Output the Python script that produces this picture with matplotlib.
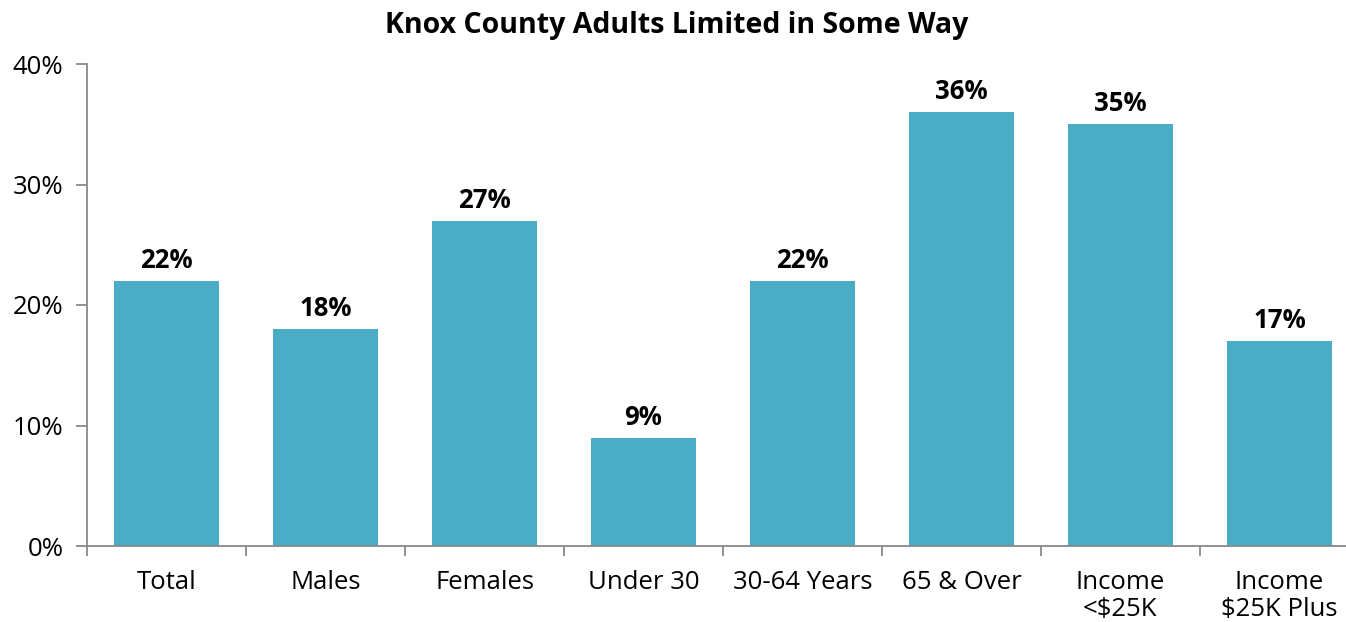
import matplotlib.pyplot as plt
import numpy as np

categories = ["Total", "Males", "Females", "Under 30", "30-64 Years",
              "65 & Over", "Income\n<$25K", "Income\n$25K Plus"]
values = [22, 18, 27, 9, 22, 36, 35, 17]
yticks = [0, 10, 20, 30, 40]

plt.rcParams['font.family'] = ['Open Sans', 'DejaVu Sans']

fig = plt.figure(figsize=(13.46, 6.22), dpi=100)
ax = fig.add_axes([87/1346, 76/622, 1272/1346, 482/622])

x = np.arange(len(categories))
bars = ax.bar(x, values, width=0.66, color="#4BACC6")

for xi, v in zip(x, values):
    ax.annotate(f"{v}%", (xi, v), xytext=(0, 5), textcoords="offset points",
                ha="center", va="bottom", fontsize=18.5, fontweight="bold")

ax.set_xlim(-0.5, len(categories) - 0.5)
ax.set_ylim(0, 40)
ax.set_yticks(yticks)
ax.set_yticklabels([f"{t}%" for t in yticks], fontsize=18.5)

ax.set_xticks(x)
ax.set_xticklabels(categories, fontsize=18.5, linespacing=1.15)
ax.tick_params(axis="x", length=0, pad=17)
ax.set_xticks(np.arange(len(categories) + 1) - 0.5, minor=True)
ax.tick_params(axis="x", which="minor", length=7, color="#898989", width=1.3)
ax.tick_params(axis="y", length=8, color="#898989", width=1.3, pad=9)

for s in ["top", "right"]:
    ax.spines[s].set_visible(False)
for s in ["left", "bottom"]:
    ax.spines[s].set_color("#898989")
    ax.spines[s].set_linewidth(1.3)

fig.text(677/1346, 1 - 26/622, "Knox County Adults Limited in Some Way",
         ha="center", va="center", fontsize=20.5, fontweight="bold")

fig.savefig("out.png", dpi=100)
